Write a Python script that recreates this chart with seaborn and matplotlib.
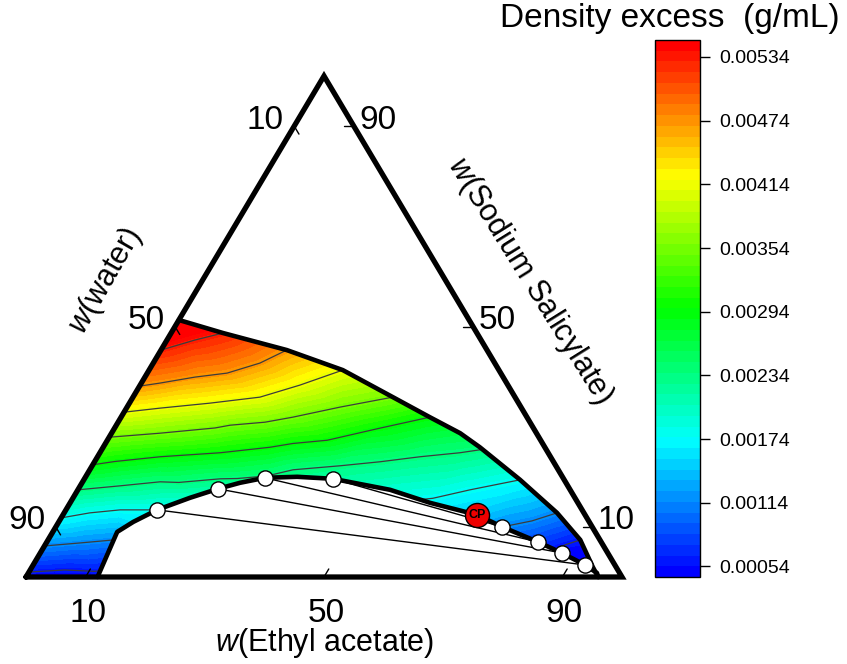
import numpy as np
import pandas as pd
import matplotlib
matplotlib.use("Agg")
import matplotlib.pyplot as plt
import matplotlib.tri as mtri
from matplotlib import cm
from matplotlib.colors import LinearSegmentedColormap, Normalize
from matplotlib.patches import Polygon
import seaborn as sns

sns.set_theme(style="white")
plt.rcParams["font.family"] = ["Liberation Sans", "DejaVu Sans"]
plt.rcParams["mathtext.fontset"] = "custom"
plt.rcParams["mathtext.it"] = "Liberation Sans:italic"
plt.rcParams["mathtext.rm"] = "Liberation Sans"
plt.rcParams["text.color"] = "black"

# compositions in mass %: (ethyl acetate, sodium salicylate), water = rest
solubility_ea = [0.0, 8.7, 21.1, 32.5, 43.6, 51.8, 58.5, 63.2, 73.2, 82.7, 89.3, 94.1, 96.0]
solubility_s = [51.3, 48.7, 45.3, 41.3, 35.9, 31.9, 28.7, 25.9, 19.4, 12.8, 7.4, 2.0, 0.0]
solubility_val = [0.00600, 0.00534, 0.00474, 0.00414, 0.00354, 0.00294, 0.00262, 0.00238,
                  0.00174, 0.00114, 0.00054, 0.00030, 0.00025]

binodal_ea = [12.0, 11.4, 10.8, 12.5, 15.3, 19.6, 23.4, 26.5, 30.2, 35.5, 41.7, 52.4,
              60.4, 69.5, 74.9, 82.4, 87.5, 92.6, 95.4]
binodal_s = [0.0, 4.5, 9.0, 11.0, 13.4, 15.8, 17.6, 18.8, 19.8, 20.0, 19.6, 17.4,
             14.8, 12.4, 10.0, 7.0, 4.8, 2.4, 0.8]
binodal_val = [0.00042, 0.00085, 0.00130, 0.00160, 0.00174, 0.00198, 0.00214, 0.00224,
               0.00231, 0.00228, 0.00218, 0.00192, 0.00168, 0.00142, 0.00114, 0.00074,
               0.00046, 0.00035, 0.00028]

# water / sodium salicylate side (ethyl acetate = 0)
edge_s = [0.0, 1.0, 6.2, 11.8, 17.4, 22.4, 27.9, 32.9, 38.1, 45.3]
edge_val = [0.00040, 0.00054, 0.00114, 0.00174, 0.00234, 0.00294, 0.00354, 0.00414,
            0.00474, 0.00534]

# points read along each drawn iso-line (value = colour bar tick)
iso_534_ea = [4.7]
iso_534_s = [47.3]
iso_474_ea = [3.1, 8.4, 13.4, 17.9]
iso_474_s = [38.7, 39.9, 40.7, 42.7]
iso_414_ea = [5.6, 13.5, 21.3, 26.8]
iso_414_s = [33.7, 34.7, 35.9, 38.3]
iso_354_ea = [8.1, 19.1, 28.8, 35.7]
iso_354_s = [28.7, 30.3, 31.9, 33.9]
iso_294_ea = [10.5, 20.2, 28.0, 36.9, 44.5]
iso_294_s = [24.0, 24.8, 25.9, 27.3, 29.7]
iso_234_ea = [6.7, 13.0, 22.8, 28.8, 34.1, 41.6, 47.9, 54.1, 60.4]
iso_234_s = [18.2, 19.0, 19.6, 20.0, 21.4, 22.2, 23.0, 24.0, 24.8]
iso_174_ea = [4.3, 9.1, 65.8]
iso_174_s = [12.8, 13.4, 17.4]
iso_114_ea = [5.7, 79.3]
iso_114_s = [6.8, 11.2]
iso_054_ea = [5.8, 87.2]
iso_054_s = [1.4, 6.4]

# tie lines (left end -> right end) and critical point
tie_left_ea = [15.3, 23.4, 30.2, 41.7]
tie_left_s = [13.4, 17.6, 19.8, 19.6]
tie_right_ea = [92.6, 87.5, 82.4, 74.9]
tie_right_s = [2.4, 4.8, 7.0, 10.0]
cp_ea = [69.5]
cp_s = [12.4]

axis_ticks = [10, 50, 90]
cbar_ticks = [0.00054, 0.00114, 0.00174, 0.00234, 0.00294, 0.00354, 0.00414, 0.00474, 0.00534]


def tern(ea, s):
    ea = np.asarray(ea, dtype=float)
    s = np.asarray(s, dtype=float)
    return ea + s / 2.0, s * np.sqrt(3) / 2.0


fig = plt.figure(figsize=(8.47, 6.64), dpi=100)
ax = fig.add_axes([0, 0, 1, 1])

# rainbow like the Origin palette
cmap = LinearSegmentedColormap.from_list(
    "origin_rainbow", ["#0000ff", "#00ffff", "#00ff00", "#ffff00", "#ff0000"])
norm = Normalize(vmin=0.00044, vmax=0.00550)

# region of one liquid phase
reg_x, reg_y = tern([0.0] + solubility_ea + binodal_ea[::-1],
                    [0.0] + solubility_s + binodal_s[::-1])
region = Polygon(np.column_stack([reg_x, reg_y]), closed=True,
                 facecolor="none", edgecolor="none", transform=ax.transData)
ax.add_patch(region)

iso_sets = [(iso_534_ea, iso_534_s, 0.00534), (iso_474_ea, iso_474_s, 0.00474),
            (iso_414_ea, iso_414_s, 0.00414), (iso_354_ea, iso_354_s, 0.00354),
            (iso_294_ea, iso_294_s, 0.00294), (iso_234_ea, iso_234_s, 0.00234),
            (iso_174_ea, iso_174_s, 0.00174), (iso_114_ea, iso_114_s, 0.00114),
            (iso_054_ea, iso_054_s, 0.00054)]
pts_ea = [0.0] * len(edge_s) + solubility_ea + binodal_ea
pts_s = edge_s + solubility_s + binodal_s
pts_val = edge_val + solubility_val + binodal_val
for e, s, v in iso_sets:
    pts_ea += e
    pts_s += s
    pts_val += [v] * len(e)

px, py = tern(pts_ea, pts_s)
tri = mtri.Triangulation(px, py)
vals = np.array(pts_val)

fill_levels = np.arange(0.0, 0.0070, 0.0001)
cf = ax.tricontourf(tri, vals, levels=fill_levels, cmap=cmap, norm=norm,
                    extend="both", zorder=1)
cf.set_clip_path(region)
cl = ax.tricontour(tri, vals, levels=cbar_ticks, colors="#3c3c3c",
                   linewidths=0.9, zorder=2)
cl.set_clip_path(region)

# tie lines
for i in range(len(tie_left_ea)):
    tx, ty = tern([tie_left_ea[i], tie_right_ea[i]], [tie_left_s[i], tie_right_s[i]])
    ax.plot(tx, ty, color="black", lw=1.0, zorder=3)

# binodal and solubility curves
bx, by = tern(binodal_ea + [solubility_ea[-1]], binodal_s + [solubility_s[-1]])
ax.plot(bx, by, color="black", lw=3.3, zorder=4, solid_capstyle="round")
sx, sy = tern(solubility_ea, solubility_s)
ax.plot(sx, sy, color="black", lw=3.3, zorder=4, solid_capstyle="round")

# triangle frame
fx, fy = tern([0, 100, 0, 0], [0, 0, 100, 0])
ax.plot(fx, fy, color="black", lw=3.8, zorder=6, solid_joinstyle="miter")

# equilibrium points
ex, ey = tern(tie_left_ea + tie_right_ea, tie_left_s + tie_right_s)
df_pts = pd.DataFrame({"x": ex, "y": ey})
sns.scatterplot(data=df_pts, x="x", y="y", s=120, color="white", edgecolor="black",
                linewidth=1.0, ax=ax, zorder=5, legend=False)
cx, cy = tern(cp_ea, cp_s)
sns.scatterplot(x=cx, y=cy, s=300, color="#ee0000", edgecolor="black", linewidth=1.0,
                ax=ax, zorder=5, legend=False)
ax.text(cx[0], cy[0], "CP", fontsize=9, fontweight="bold", ha="center", va="center",
        color="black", zorder=7)

# ticks and tick labels
tl = 1.6
for v in axis_ticks:
    # ethyl acetate (bottom)
    x0, y0 = tern([v, v], [0, tl])
    ax.plot(x0, y0, color="black", lw=1.0, zorder=6)
    ax.annotate(str(v), (x0[0], y0[0]), xytext=(2, -36), textcoords="offset pixels",
                ha="center", va="center", fontsize=24)
    # water (left)
    x1, y1 = tern([0, tl], [100 - v, 100 - v - tl])
    ax.plot(x1, y1, color="black", lw=1.0, zorder=6)
    ax.annotate(str(v), (x1[0], y1[0]), xytext=(-29, 6), textcoords="offset pixels",
                ha="center", va="center", fontsize=24)
    # sodium salicylate (right)
    x2, y2 = tern([100 - v, 100 - v - tl], [v, v])
    ax.plot(x2, y2, color="black", lw=1.0, zorder=6)
    ax.annotate(str(v), (x2[0], y2[0]), xytext=(24, 6), textcoords="offset pixels",
                ha="center", va="center", fontsize=24)

# axis titles
bx0, by0 = tern([50], [0])
ax.annotate(r"$\it{w}$(Ethyl acetate)", (bx0[0], by0[0]), xytext=(0, -66),
            textcoords="offset pixels", ha="center", va="center", fontsize=22)
fig.text(106 / 847, 1 - 281 / 664, r"$\it{w}$(water)", rotation=60, ha="center",
         va="center", fontsize=22)
fig.text(530 / 847, 1 - 281 / 664, r"$\it{w}$(Sodium Salicylate)", rotation=-58,
         ha="center", va="center", fontsize=22)

ax.set_xlim(-26 / 5.96, 821 / 5.96)
ax.set_ylim(-87 / 5.785, 577 / 5.785)
ax.axis("off")

# colour bar
cax = fig.add_axes([655 / 847, 87 / 664, 45 / 847, 537 / 664])
sm = cm.ScalarMappable(norm=norm, cmap=cmap.resampled(50))
cb = fig.colorbar(sm, cax=cax, ticks=cbar_ticks)
cb.ax.set_yticklabels([f"{t:.5f}" for t in cbar_ticks])
cb.ax.tick_params(labelsize=14, length=7, width=1.0, direction="out", colors="black",
                  labelcolor="black", right=True, pad=7)
cb.outline.set_linewidth(1.0)
cb.outline.set_edgecolor("black")
fig.text(840 / 847, 1 - 18 / 664, "Density excess  (g/mL)", ha="right", va="center",
         fontsize=24)

fig.savefig("out.png", dpi=100)
